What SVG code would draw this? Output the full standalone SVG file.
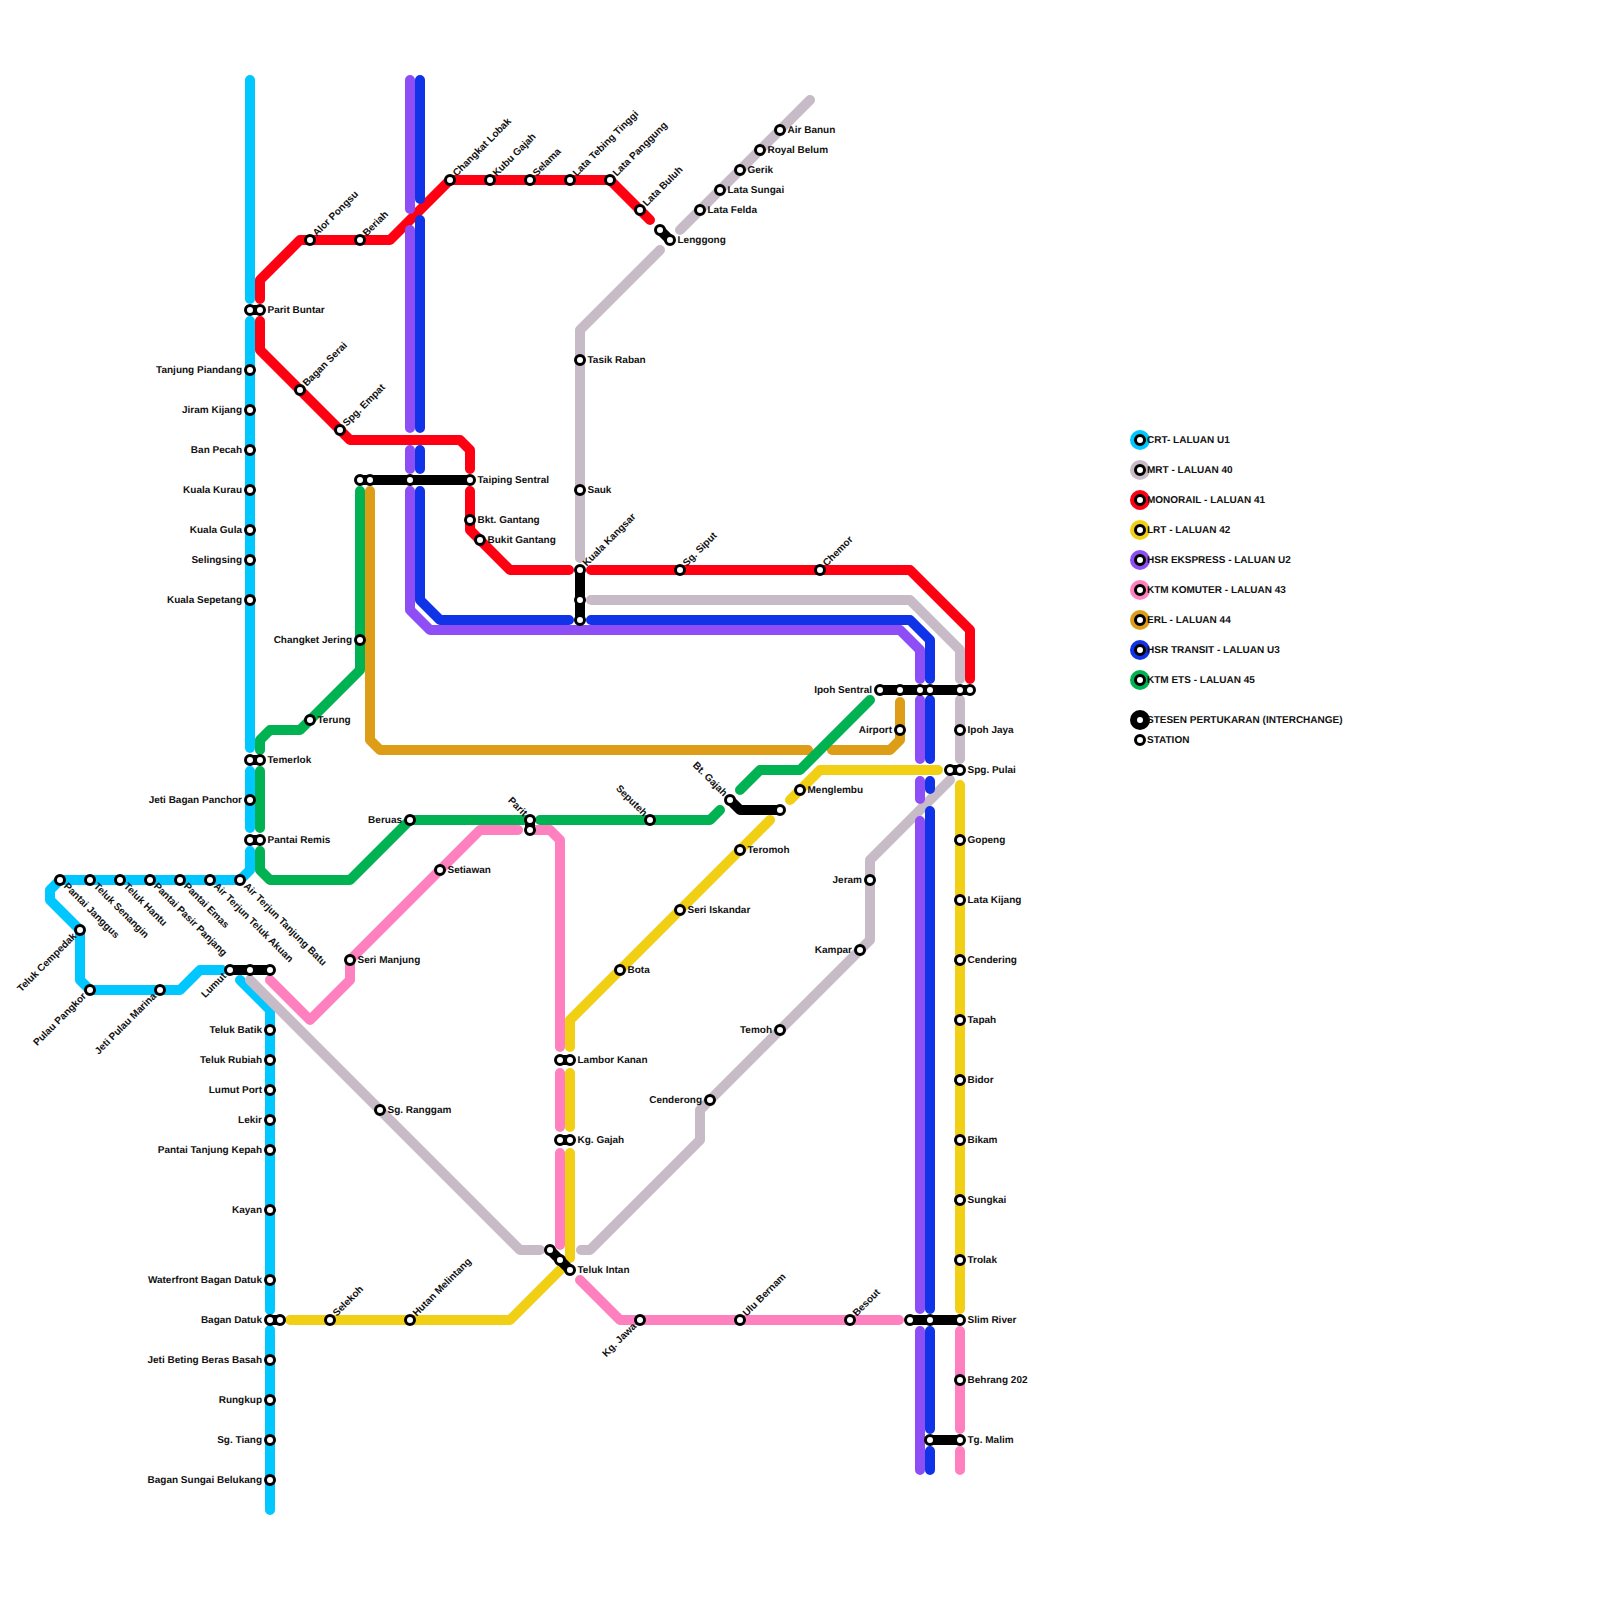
<svg xmlns="http://www.w3.org/2000/svg" width="1600" height="1600" viewBox="0 0 1600 1600">
<style>
text{font-family:"Liberation Sans",Arial,sans-serif;font-size:10px;font-weight:700;fill:#111;text-rendering:geometricPrecision}
.e{text-anchor:end}
.l{fill:none;stroke-width:10;stroke-linecap:round;stroke-linejoin:round}
.crt{stroke:#00C7FF}.mrt{stroke:#C7BBC7}.mono{stroke:#FF0012}.lrt{stroke:#F1CF15}.hse{stroke:#8E4EF5}.ktm{stroke:#FF80BF}.erl{stroke:#DE9D17}.hst{stroke:#1133E8}.ets{stroke:#00B251}.x{stroke:#000}
.s{fill:#fff;stroke:#000;stroke-width:3}
</style>
<g id="connectors">
<path class="l crt" d="M250 80V299M250 321V748M250 771V828M250 851V870L240 880H60L50 890V900L80 930V980L90 990H180L200 970H222M240 980L270 1010V1310M270 1330V1510"/>
<path class="l mrt" d="M810 100L680 230M660 250L580 330V558M591 600H910L960 650V679M960 700V759M950 780L870 860V940L700 1110V1140L590 1250H581M250 980L520 1250H540"/>
<path class="l mono" d="M260 299V280L300 240H390L450 180H610L650 220M260 321V350L350 440H460L470 450V469M470 491V530L510 570H569M591 570H910L970 630V679"/>
<path class="l lrt" d="M790 800L820 770H938M960 785V1309M770 820L570 1020V1047M570 1073V1127M570 1153V1258M562 1268L510 1320H290"/>
<path class="l hse" d="M410 80V209M410 230V428M410 450V469M410 491V610L430 630H900L920 650V679M920 700V759M920 781V799M920 821V1309M920 1331V1470"/>
<path class="l ktm" d="M270 980L310 1020L350 980V960L480 830H518M535 830H550L560 840V1047M560 1073V1127M560 1153V1245M580 1280L620 1320H899M960 1331V1429M960 1451V1470"/>
<path class="l erl" d="M370 491V740L380 750H808M832 750H890L900 740V702"/>
<path class="l hst" d="M420 80V199M420 220V428M420 450V469M420 491V600L440 620H569M591 620H910L930 640V679M930 700V759M930 781V789M930 811V1309M930 1331V1429M930 1451V1470"/>
<path class="l ets" d="M360 491V670L300 730H270L260 740V750M260 771V828M260 851V870L270 880H350L410 820H525M540 820H710L720 810M740 790L760 770H800L870 700"/>
</g>
<g id="ix-parit-buntar"><path class="l x" d="M250 310H260"/><circle class="s" cx="250" cy="310" r="4.5"/><circle class="s" cx="260" cy="310" r="4.5"/><text x="267.5" y="312.5">Parit Buntar</text></g>
<g id="ix-temerlok"><path class="l x" d="M250 760H260"/><circle class="s" cx="250" cy="760" r="4.5"/><circle class="s" cx="260" cy="760" r="4.5"/><text x="267.5" y="762.5">Temerlok</text></g>
<g id="ix-pantai-remis"><path class="l x" d="M250 840H260"/><circle class="s" cx="250" cy="840" r="4.5"/><circle class="s" cx="260" cy="840" r="4.5"/><text x="267.5" y="842.5">Pantai Remis</text></g>
<g id="ix-lumut"><path class="l x" d="M230 970H270"/><circle class="s" cx="230" cy="970" r="4.5"/><circle class="s" cx="250" cy="970" r="4.5"/><circle class="s" cx="270" cy="970" r="4.5"/><text class="e" transform="translate(230 970) rotate(-45)" x="-7" y="2.5">Lumut</text></g>
<g id="ix-bagan-datuk"><path class="l x" d="M270 1320H280"/><circle class="s" cx="270" cy="1320" r="4.5"/><circle class="s" cx="280" cy="1320" r="4.5"/><text class="e" x="262" y="1322.5">Bagan Datuk</text></g>
<g id="ix-taiping"><path class="l x" d="M360 480H470"/><circle class="s" cx="360" cy="480" r="4.5"/><circle class="s" cx="370" cy="480" r="4.5"/><circle class="s" cx="410" cy="480" r="4.5"/><circle class="s" cx="470" cy="480" r="4.5"/><text x="477.5" y="482.5">Taiping Sentral</text></g>
<g id="ix-kuala-kangsar"><path class="l x" d="M580 570V620"/><circle class="s" cx="580" cy="570" r="4.5"/><circle class="s" cx="580" cy="600" r="4.5"/><circle class="s" cx="580" cy="620" r="4.5"/><text transform="translate(580 570) rotate(-45)" x="7" y="2.5">Kuala Kangsar</text></g>
<g id="ix-parit"><path class="l x" d="M530 820V830"/><circle class="s" cx="530" cy="820" r="4.5"/><circle class="s" cx="530" cy="830" r="4.5"/><text class="e" transform="translate(530 820) rotate(45)" x="-7" y="2.5">Parit</text></g>
<g id="ix-lenggong"><path class="l x" d="M660 230L670 240"/><circle class="s" cx="660" cy="230" r="4.5"/><circle class="s" cx="670" cy="240" r="4.5"/><text x="677.5" y="242.5">Lenggong</text></g>
<g id="ix-bt-gajah"><path class="l x" d="M730 800L740 810H780"/><circle class="s" cx="730" cy="800" r="4.5"/><circle class="s" cx="780" cy="810" r="4.5"/><text class="e" transform="translate(730 800) rotate(45)" x="-7" y="2.5">Bt. Gajah</text></g>
<g id="ix-ipoh-sentral"><path class="l x" d="M880 690H970"/><circle class="s" cx="880" cy="690" r="4.5"/><circle class="s" cx="900" cy="690" r="4.5"/><circle class="s" cx="920" cy="690" r="4.5"/><circle class="s" cx="930" cy="690" r="4.5"/><circle class="s" cx="960" cy="690" r="4.5"/><circle class="s" cx="970" cy="690" r="4.5"/><text class="e" x="872" y="692.5">Ipoh Sentral</text></g>
<g id="ix-spg-pulai"><path class="l x" d="M950 770H960"/><circle class="s" cx="950" cy="770" r="4.5"/><circle class="s" cx="960" cy="770" r="4.5"/><text x="967.5" y="772.5">Spg. Pulai</text></g>
<g id="ix-lambor-kanan"><path class="l x" d="M560 1060H570"/><circle class="s" cx="560" cy="1060" r="4.5"/><circle class="s" cx="570" cy="1060" r="4.5"/><text x="577.5" y="1062.5">Lambor Kanan</text></g>
<g id="ix-kg-gajah"><path class="l x" d="M560 1140H570"/><circle class="s" cx="560" cy="1140" r="4.5"/><circle class="s" cx="570" cy="1140" r="4.5"/><text x="577.5" y="1142.5">Kg. Gajah</text></g>
<g id="ix-teluk-intan"><path class="l x" d="M550 1250L570 1270"/><circle class="s" cx="550" cy="1250" r="4.5"/><circle class="s" cx="560" cy="1260" r="4.5"/><circle class="s" cx="570" cy="1270" r="4.5"/><text x="577.5" y="1272.5">Teluk Intan</text></g>
<g id="ix-slim-river"><path class="l x" d="M910 1320H960"/><circle class="s" cx="910" cy="1320" r="4.5"/><circle class="s" cx="930" cy="1320" r="4.5"/><circle class="s" cx="960" cy="1320" r="4.5"/><text x="967.5" y="1322.5">Slim River</text></g>
<g id="ix-tg-malim"><path class="l x" d="M930 1440H960"/><circle class="s" cx="930" cy="1440" r="4.5"/><circle class="s" cx="960" cy="1440" r="4.5"/><text x="967.5" y="1442.5">Tg. Malim</text></g>
<g id="st-tanjung-piandang"><circle class="s" cx="250" cy="370" r="4.5"/><text class="e" x="242" y="372.5">Tanjung Piandang</text></g>
<g id="st-jiram-kijang"><circle class="s" cx="250" cy="410" r="4.5"/><text class="e" x="242" y="412.5">Jiram Kijang</text></g>
<g id="st-ban-pecah"><circle class="s" cx="250" cy="450" r="4.5"/><text class="e" x="242" y="452.5">Ban Pecah</text></g>
<g id="st-kuala-kurau"><circle class="s" cx="250" cy="490" r="4.5"/><text class="e" x="242" y="492.5">Kuala Kurau</text></g>
<g id="st-kuala-gula"><circle class="s" cx="250" cy="530" r="4.5"/><text class="e" x="242" y="532.5">Kuala Gula</text></g>
<g id="st-selingsing"><circle class="s" cx="250" cy="560" r="4.5"/><text class="e" x="242" y="562.5">Selingsing</text></g>
<g id="st-kuala-sepetang"><circle class="s" cx="250" cy="600" r="4.5"/><text class="e" x="242" y="602.5">Kuala Sepetang</text></g>
<g id="st-jeti-bagan-panchor"><circle class="s" cx="250" cy="800" r="4.5"/><text class="e" x="242" y="802.5">Jeti Bagan Panchor</text></g>
<g id="st-air-terjun-tanjung-batu"><circle class="s" cx="240" cy="880" r="4.5"/><text transform="translate(240 880) rotate(45)" x="7" y="2.5">Air Terjun Tanjung Batu</text></g>
<g id="st-air-terjun-teluk-akuan"><circle class="s" cx="210" cy="880" r="4.5"/><text transform="translate(210 880) rotate(45)" x="7" y="2.5">Air Terjun Teluk Akuan</text></g>
<g id="st-pantai-emas"><circle class="s" cx="180" cy="880" r="4.5"/><text transform="translate(180 880) rotate(45)" x="7" y="2.5">Pantai Emas</text></g>
<g id="st-pantai-pasir-panjang"><circle class="s" cx="150" cy="880" r="4.5"/><text transform="translate(150 880) rotate(45)" x="7" y="2.5">Pantai Pasir Panjang</text></g>
<g id="st-teluk-hantu"><circle class="s" cx="120" cy="880" r="4.5"/><text transform="translate(120 880) rotate(45)" x="7" y="2.5">Teluk Hantu</text></g>
<g id="st-teluk-senangin"><circle class="s" cx="90" cy="880" r="4.5"/><text transform="translate(90 880) rotate(45)" x="7" y="2.5">Teluk Senangin</text></g>
<g id="st-pantai-janggus"><circle class="s" cx="60" cy="880" r="4.5"/><text transform="translate(60 880) rotate(45)" x="7" y="2.5">Pantai Janggus</text></g>
<g id="st-teluk-cempedak"><circle class="s" cx="80" cy="930" r="4.5"/><text class="e" transform="translate(80 930) rotate(-45)" x="-7" y="2.5">Teluk Cempedak</text></g>
<g id="st-pulau-pangkor"><circle class="s" cx="90" cy="990" r="4.5"/><text class="e" transform="translate(90 990) rotate(-45)" x="-7" y="2.5">Pulau Pangkor</text></g>
<g id="st-jeti-pulau-marina"><circle class="s" cx="160" cy="990" r="4.5"/><text class="e" transform="translate(160 990) rotate(-45)" x="-7" y="2.5">Jeti Pulau Marina</text></g>
<g id="st-teluk-batik"><circle class="s" cx="270" cy="1030" r="4.5"/><text class="e" x="262" y="1032.5">Teluk Batik</text></g>
<g id="st-teluk-rubiah"><circle class="s" cx="270" cy="1060" r="4.5"/><text class="e" x="262" y="1062.5">Teluk Rubiah</text></g>
<g id="st-lumut-port"><circle class="s" cx="270" cy="1090" r="4.5"/><text class="e" x="262" y="1092.5">Lumut Port</text></g>
<g id="st-lekir"><circle class="s" cx="270" cy="1120" r="4.5"/><text class="e" x="262" y="1122.5">Lekir</text></g>
<g id="st-pantai-tanjung-kepah"><circle class="s" cx="270" cy="1150" r="4.5"/><text class="e" x="262" y="1152.5">Pantai Tanjung Kepah</text></g>
<g id="st-kayan"><circle class="s" cx="270" cy="1210" r="4.5"/><text class="e" x="262" y="1212.5">Kayan</text></g>
<g id="st-waterfront"><circle class="s" cx="270" cy="1280" r="4.5"/><text class="e" x="262" y="1282.5">Waterfront Bagan Datuk</text></g>
<g id="st-jeti-beting"><circle class="s" cx="270" cy="1360" r="4.5"/><text class="e" x="262" y="1362.5">Jeti Beting Beras Basah</text></g>
<g id="st-rungkup"><circle class="s" cx="270" cy="1400" r="4.5"/><text class="e" x="262" y="1402.5">Rungkup</text></g>
<g id="st-sg-tiang"><circle class="s" cx="270" cy="1440" r="4.5"/><text class="e" x="262" y="1442.5">Sg. Tiang</text></g>
<g id="st-bagan-sungai-belukang"><circle class="s" cx="270" cy="1480" r="4.5"/><text class="e" x="262" y="1482.5">Bagan Sungai Belukang</text></g>
<g id="st-alor-pongsu"><circle class="s" cx="310" cy="240" r="4.5"/><text transform="translate(310 240) rotate(-45)" x="7" y="2.5">Alor Pongsu</text></g>
<g id="st-beriah"><circle class="s" cx="360" cy="240" r="4.5"/><text transform="translate(360 240) rotate(-45)" x="7" y="2.5">Beriah</text></g>
<g id="st-changkat-lobak"><circle class="s" cx="450" cy="180" r="4.5"/><text transform="translate(450 180) rotate(-45)" x="7" y="2.5">Changkat Lobak</text></g>
<g id="st-kubu-gajah"><circle class="s" cx="490" cy="180" r="4.5"/><text transform="translate(490 180) rotate(-45)" x="7" y="2.5">Kubu Gajah</text></g>
<g id="st-selama"><circle class="s" cx="530" cy="180" r="4.5"/><text transform="translate(530 180) rotate(-45)" x="7" y="2.5">Selama</text></g>
<g id="st-lata-tebing-tinggi"><circle class="s" cx="570" cy="180" r="4.5"/><text transform="translate(570 180) rotate(-45)" x="7" y="2.5">Lata Tebing Tinggi</text></g>
<g id="st-lata-panggung"><circle class="s" cx="610" cy="180" r="4.5"/><text transform="translate(610 180) rotate(-45)" x="7" y="2.5">Lata Panggung</text></g>
<g id="st-lata-buluh"><circle class="s" cx="640" cy="210" r="4.5"/><text transform="translate(640 210) rotate(-45)" x="7" y="2.5">Lata Buluh</text></g>
<g id="st-bagan-serai"><circle class="s" cx="300" cy="390" r="4.5"/><text transform="translate(300 390) rotate(-45)" x="7" y="2.5">Bagan Serai</text></g>
<g id="st-spg-empat"><circle class="s" cx="340" cy="430" r="4.5"/><text transform="translate(340 430) rotate(-45)" x="7" y="2.5">Spg. Empat</text></g>
<g id="st-bkt-gantang"><circle class="s" cx="470" cy="520" r="4.5"/><text x="477.5" y="522.5">Bkt. Gantang</text></g>
<g id="st-bukit-gantang"><circle class="s" cx="480" cy="540" r="4.5"/><text x="487.5" y="542.5">Bukit Gantang</text></g>
<g id="st-sg-siput"><circle class="s" cx="680" cy="570" r="4.5"/><text transform="translate(680 570) rotate(-45)" x="7" y="2.5">Sg. Siput</text></g>
<g id="st-chemor"><circle class="s" cx="820" cy="570" r="4.5"/><text transform="translate(820 570) rotate(-45)" x="7" y="2.5">Chemor</text></g>
<g id="st-air-banun"><circle class="s" cx="780" cy="130" r="4.5"/><text x="787.5" y="132.5">Air Banun</text></g>
<g id="st-royal-belum"><circle class="s" cx="760" cy="150" r="4.5"/><text x="767.5" y="152.5">Royal Belum</text></g>
<g id="st-gerik"><circle class="s" cx="740" cy="170" r="4.5"/><text x="747.5" y="172.5">Gerik</text></g>
<g id="st-lata-sungai"><circle class="s" cx="720" cy="190" r="4.5"/><text x="727.5" y="192.5">Lata Sungai</text></g>
<g id="st-lata-felda"><circle class="s" cx="700" cy="210" r="4.5"/><text x="707.5" y="212.5">Lata Felda</text></g>
<g id="st-tasik-raban"><circle class="s" cx="580" cy="360" r="4.5"/><text x="587.5" y="362.5">Tasik Raban</text></g>
<g id="st-sauk"><circle class="s" cx="580" cy="490" r="4.5"/><text x="587.5" y="492.5">Sauk</text></g>
<g id="st-changkat-jering"><circle class="s" cx="360" cy="640" r="4.5"/><text class="e" x="352" y="642.5">Changket Jering</text></g>
<g id="st-terung"><circle class="s" cx="310" cy="720" r="4.5"/><text x="317.5" y="722.5">Terung</text></g>
<g id="st-beruas"><circle class="s" cx="410" cy="820" r="4.5"/><text class="e" x="402" y="822.5">Beruas</text></g>
<g id="st-seputeh"><circle class="s" cx="650" cy="820" r="4.5"/><text class="e" transform="translate(650 820) rotate(45)" x="-7" y="2.5">Seputeh</text></g>
<g id="st-setiawan"><circle class="s" cx="440" cy="870" r="4.5"/><text x="447.5" y="872.5">Setiawan</text></g>
<g id="st-seri-manjung"><circle class="s" cx="350" cy="960" r="4.5"/><text x="357.5" y="962.5">Seri Manjung</text></g>
<g id="st-sg-ranggam"><circle class="s" cx="380" cy="1110" r="4.5"/><text x="387.5" y="1112.5">Sg. Ranggam</text></g>
<g id="st-airport"><circle class="s" cx="900" cy="730" r="4.5"/><text class="e" x="892" y="732.5">Airport</text></g>
<g id="st-menglembu"><circle class="s" cx="800" cy="790" r="4.5"/><text x="807.5" y="792.5">Menglembu</text></g>
<g id="st-teromoh"><circle class="s" cx="740" cy="850" r="4.5"/><text x="747.5" y="852.5">Teromoh</text></g>
<g id="st-seri-iskandar"><circle class="s" cx="680" cy="910" r="4.5"/><text x="687.5" y="912.5">Seri Iskandar</text></g>
<g id="st-bota"><circle class="s" cx="620" cy="970" r="4.5"/><text x="627.5" y="972.5">Bota</text></g>
<g id="st-jeram"><circle class="s" cx="870" cy="880" r="4.5"/><text class="e" x="862" y="882.5">Jeram</text></g>
<g id="st-kampar"><circle class="s" cx="860" cy="950" r="4.5"/><text class="e" x="852" y="952.5">Kampar</text></g>
<g id="st-temoh"><circle class="s" cx="780" cy="1030" r="4.5"/><text class="e" x="772" y="1032.5">Temoh</text></g>
<g id="st-cenderong"><circle class="s" cx="710" cy="1100" r="4.5"/><text class="e" x="702" y="1102.5">Cenderong</text></g>
<g id="st-ipoh-jaya"><circle class="s" cx="960" cy="730" r="4.5"/><text x="967.5" y="732.5">Ipoh Jaya</text></g>
<g id="st-gopeng"><circle class="s" cx="960" cy="840" r="4.5"/><text x="967.5" y="842.5">Gopeng</text></g>
<g id="st-lata-kijang"><circle class="s" cx="960" cy="900" r="4.5"/><text x="967.5" y="902.5">Lata Kijang</text></g>
<g id="st-cendering"><circle class="s" cx="960" cy="960" r="4.5"/><text x="967.5" y="962.5">Cendering</text></g>
<g id="st-tapah"><circle class="s" cx="960" cy="1020" r="4.5"/><text x="967.5" y="1022.5">Tapah</text></g>
<g id="st-bidor"><circle class="s" cx="960" cy="1080" r="4.5"/><text x="967.5" y="1082.5">Bidor</text></g>
<g id="st-bikam"><circle class="s" cx="960" cy="1140" r="4.5"/><text x="967.5" y="1142.5">Bikam</text></g>
<g id="st-sungkai"><circle class="s" cx="960" cy="1200" r="4.5"/><text x="967.5" y="1202.5">Sungkai</text></g>
<g id="st-trolak"><circle class="s" cx="960" cy="1260" r="4.5"/><text x="967.5" y="1262.5">Trolak</text></g>
<g id="st-behrang"><circle class="s" cx="960" cy="1380" r="4.5"/><text x="967.5" y="1382.5">Behrang 202</text></g>
<g id="st-selekoh"><circle class="s" cx="330" cy="1320" r="4.5"/><text transform="translate(330 1320) rotate(-45)" x="7" y="2.5">Selekoh</text></g>
<g id="st-hutan-melintang"><circle class="s" cx="410" cy="1320" r="4.5"/><text transform="translate(410 1320) rotate(-45)" x="7" y="2.5">Hutan Melintang</text></g>
<g id="st-kg-jawa"><circle class="s" cx="640" cy="1320" r="4.5"/><text class="e" transform="translate(640 1320) rotate(-45)" x="-7" y="2.5">Kg. Jawa</text></g>
<g id="st-ulu-bernam"><circle class="s" cx="740" cy="1320" r="4.5"/><text transform="translate(740 1320) rotate(-45)" x="7" y="2.5">Ulu Bernam</text></g>
<g id="st-besout"><circle class="s" cx="850" cy="1320" r="4.5"/><text transform="translate(850 1320) rotate(-45)" x="7" y="2.5">Besout</text></g>
<g id="legend">
<circle cx="1140" cy="440" r="10" fill="#00C7FF"/><circle class="s" cx="1140" cy="440" r="4.5"/><text x="1147" y="442.500">CRT- LALUAN U1</text>
<circle cx="1140" cy="470" r="10" fill="#C7BBC7"/><circle class="s" cx="1140" cy="470" r="4.5"/><text x="1147" y="472.500">MRT - LALUAN 40</text>
<circle cx="1140" cy="500" r="10" fill="#FF0012"/><circle class="s" cx="1140" cy="500" r="4.5"/><text x="1147" y="502.500">MONORAIL - LALUAN 41</text>
<circle cx="1140" cy="530" r="10" fill="#F1CF15"/><circle class="s" cx="1140" cy="530" r="4.5"/><text x="1147" y="532.500">LRT - LALUAN 42</text>
<circle cx="1140" cy="560" r="10" fill="#8E4EF5"/><circle class="s" cx="1140" cy="560" r="4.5"/><text x="1147" y="562.500">HSR EKSPRESS - LALUAN U2</text>
<circle cx="1140" cy="590" r="10" fill="#FF80BF"/><circle class="s" cx="1140" cy="590" r="4.5"/><text x="1147" y="592.500">KTM KOMUTER - LALUAN 43</text>
<circle cx="1140" cy="620" r="10" fill="#DE9D17"/><circle class="s" cx="1140" cy="620" r="4.5"/><text x="1147" y="622.500">ERL - LALUAN 44</text>
<circle cx="1140" cy="650" r="10" fill="#1133E8"/><circle class="s" cx="1140" cy="650" r="4.5"/><text x="1147" y="652.500">HSR TRANSIT - LALUAN U3</text>
<circle cx="1140" cy="680" r="10" fill="#00B251"/><circle class="s" cx="1140" cy="680" r="4.5"/><text x="1147" y="682.500">KTM ETS - LALUAN 45</text>
<circle cx="1140" cy="720" r="10" fill="#000"/><circle class="s" cx="1140" cy="720" r="4.5"/><text x="1147" y="722.500">STESEN PERTUKARAN (INTERCHANGE)</text>
<circle class="s" cx="1140" cy="740" r="4.5"/><text x="1147" y="742.500">STATION</text>
</g>
</svg>
